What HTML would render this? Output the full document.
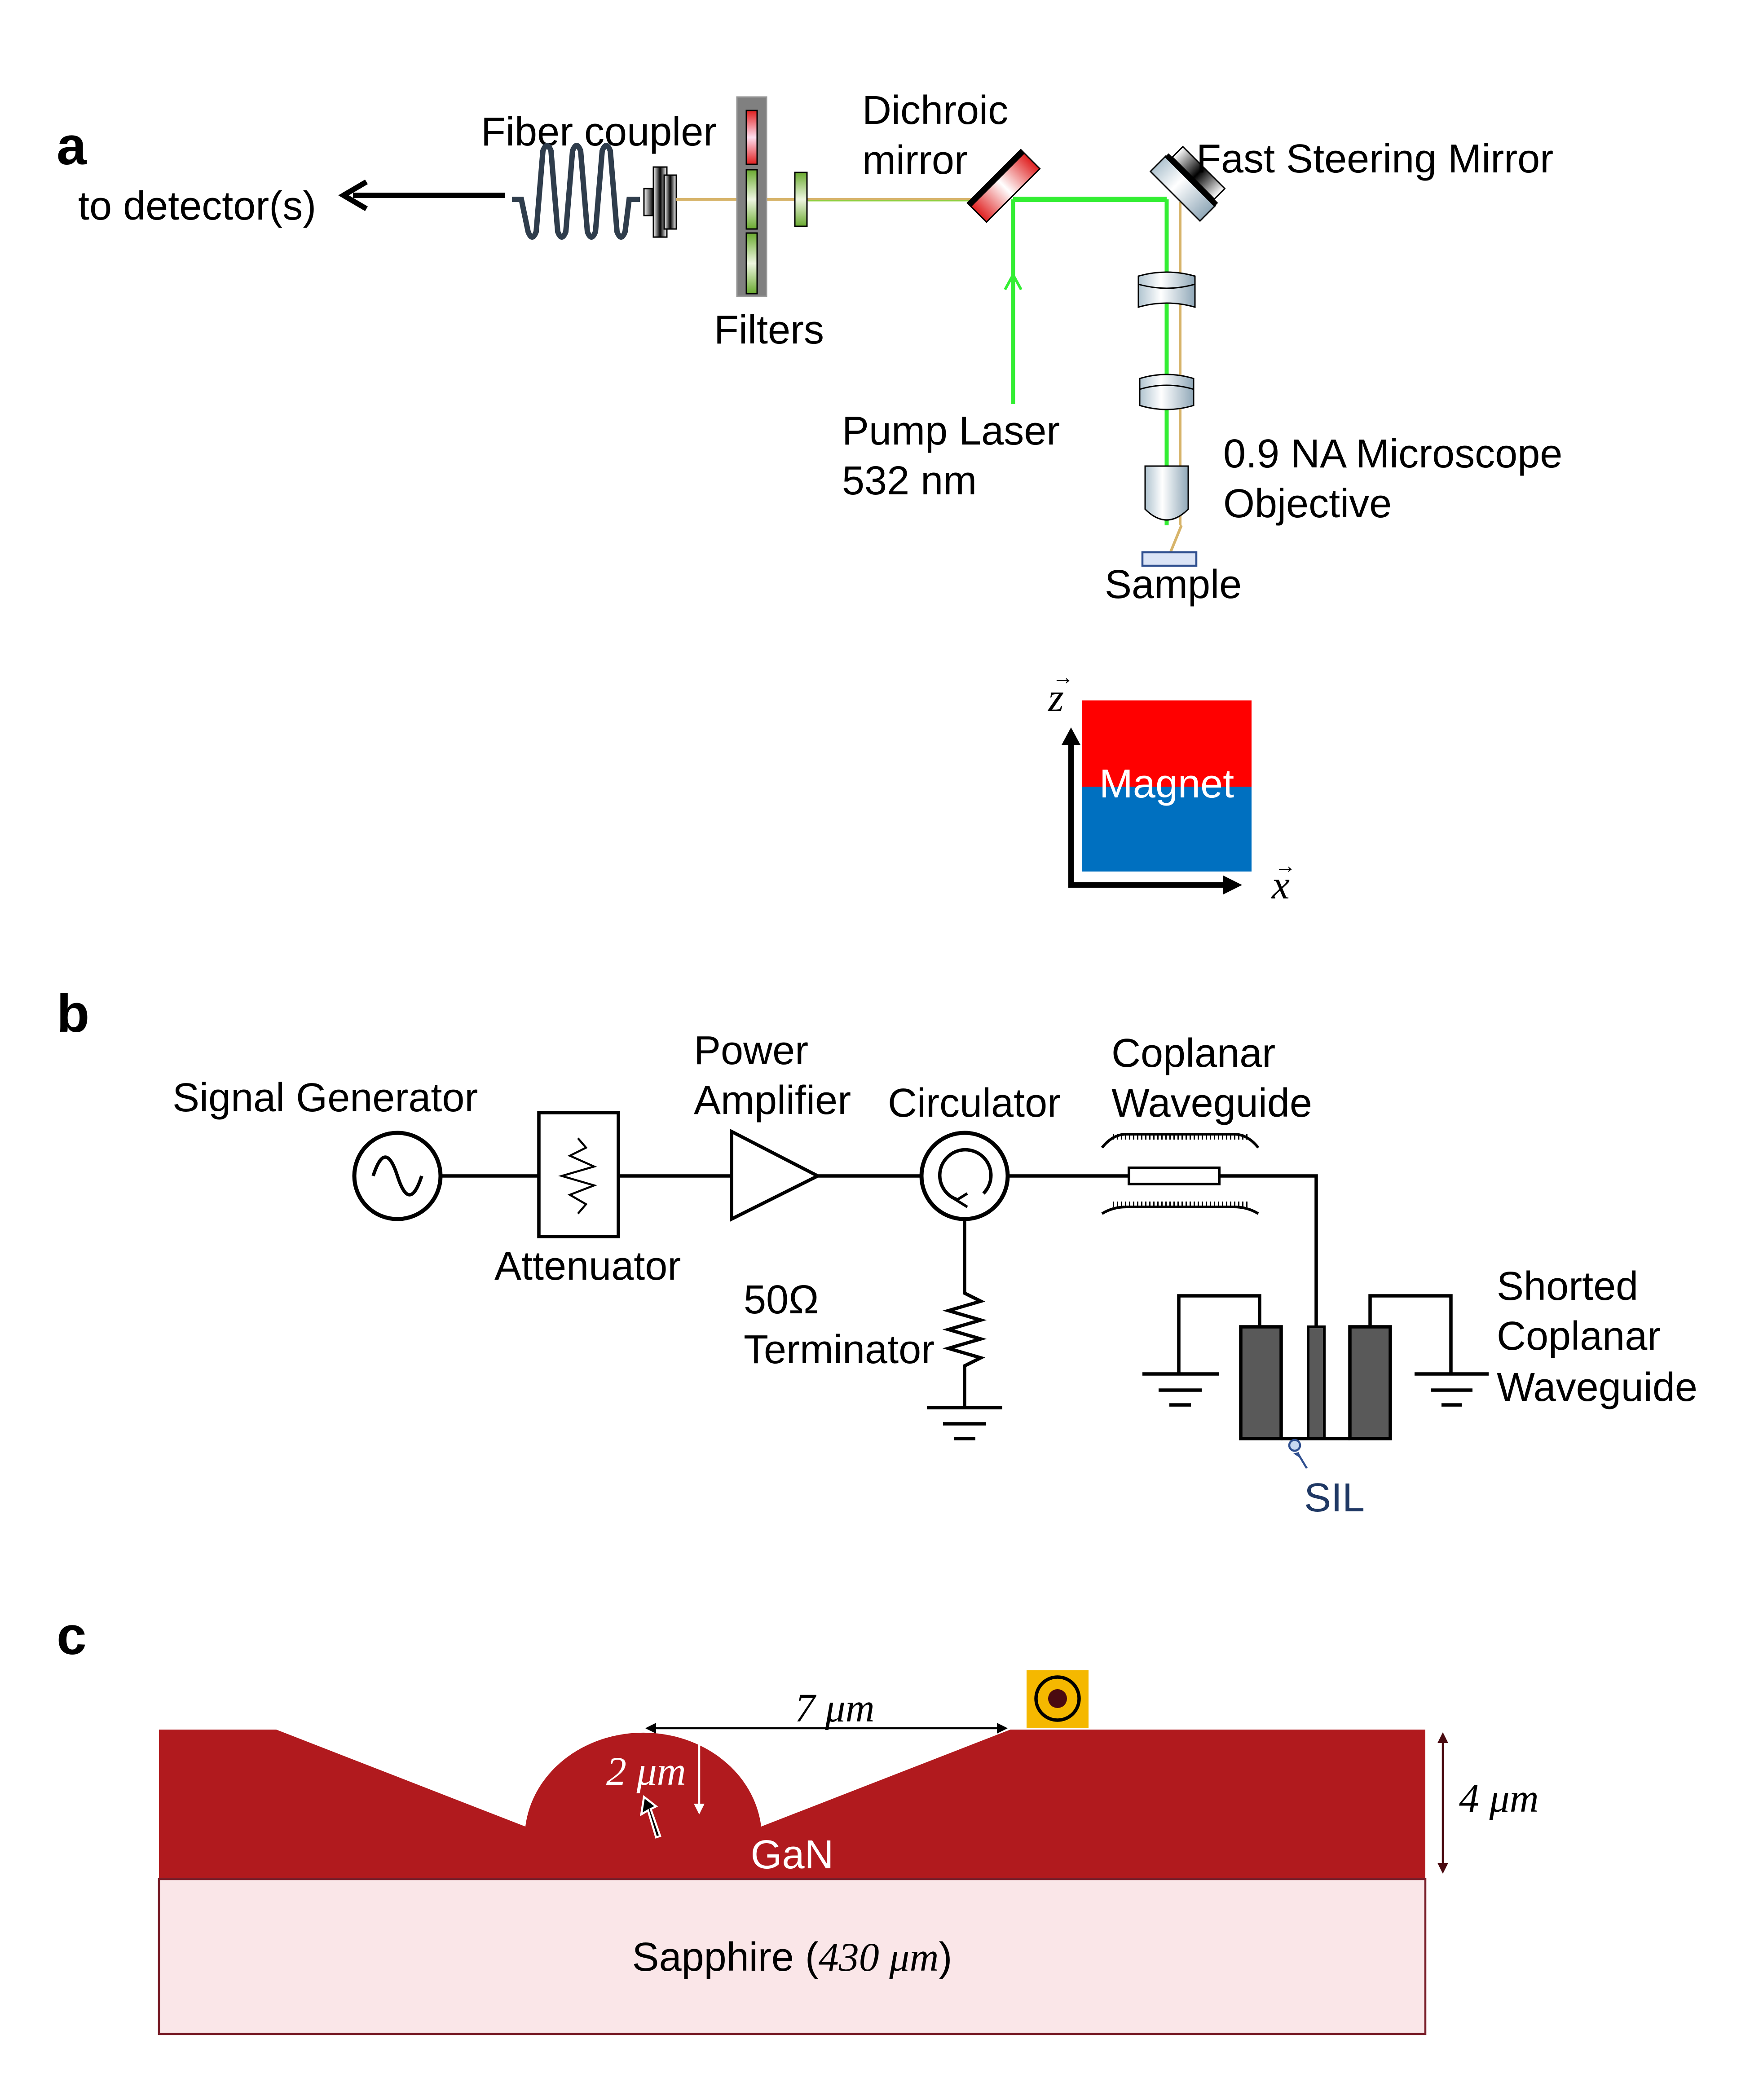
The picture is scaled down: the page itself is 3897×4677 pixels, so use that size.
<!DOCTYPE html>
<html><head><meta charset="utf-8"><style>
html,body{margin:0;padding:0;background:#fff;}
svg{display:block;}
text{font-family:"Liberation Sans",sans-serif;}
.s{font-family:"Liberation Serif",serif;font-style:italic;}
</style></head><body>
<svg width="3897" height="4677" viewBox="0 0 1299 1559" xmlns="http://www.w3.org/2000/svg">
<defs>
<linearGradient id="red" x1="0" x2="1"><stop offset="0" stop-color="#e02020"/><stop offset="0.5" stop-color="#fff"/><stop offset="1" stop-color="#e02020"/></linearGradient>
<linearGradient id="rv" x1="0" y1="0" x2="0" y2="1"><stop offset="0" stop-color="#e02020"/><stop offset="0.5" stop-color="#fde"/><stop offset="1" stop-color="#e02020"/></linearGradient>
<linearGradient id="gv" x1="0" y1="0" x2="0" y2="1"><stop offset="0" stop-color="#6aaa30"/><stop offset="0.5" stop-color="#eef6e0"/><stop offset="1" stop-color="#6aaa30"/></linearGradient>
<linearGradient id="metal" x1="0" x2="1"><stop offset="0" stop-color="#b0c4d0"/><stop offset="0.4" stop-color="#fff"/><stop offset="1" stop-color="#90a8b8"/></linearGradient>
<linearGradient id="blk" x1="0" x2="1"><stop offset="0" stop-color="#fff"/><stop offset="0.5" stop-color="#000"/><stop offset="1" stop-color="#fff"/></linearGradient>
<marker id="ahw" markerWidth="8" markerHeight="8" refX="7" refY="4" orient="auto" markerUnits="userSpaceOnUse"><path d="M0,0 L8,4 L0,8 z" fill="#fff"/></marker>
<marker id="ahd" markerWidth="8" markerHeight="8" refX="7" refY="4" orient="auto-start-reverse" markerUnits="userSpaceOnUse"><path d="M0,0 L8,4 L0,8 z" fill="#4a0a10"/></marker>
<marker id="ahk" markerWidth="8" markerHeight="8" refX="7" refY="4" orient="auto-start-reverse" markerUnits="userSpaceOnUse"><path d="M0,0 L8,4 L0,8 z" fill="#000"/></marker>
</defs>

<g font-size="30">
<!-- Panel a -->
<text x="42" y="122" font-size="40" font-weight="bold">a</text>
<text x="58" y="163">to detector(s)</text>
<line x1="375" y1="145" x2="262" y2="145" stroke="#000" stroke-width="4"/>
<path d="M272,135 L255,145 L272,155" fill="none" stroke="#000" stroke-width="4"/>
<text x="357" y="108">Fiber coupler</text>
<path d="M380,148 L387,148 L392,172 Q395,180 398,172 L403,112 Q406,104 409,112 L414,172 Q417,180 420,172 L425,112 Q428,104 431,112 L436,172 Q439,180 442,172 L447,112 Q450,104 453,112 L458,172 Q461,180 464,172 L467,148 L475,148" fill="none" stroke="#2f3d4c" stroke-width="4"/>
<rect x="478" y="140" width="14" height="20" fill="url(#blk)" stroke="#000" stroke-width="1"/>
<rect x="485" y="124" width="10" height="52" fill="url(#blk)" stroke="#000" stroke-width="1"/>
<rect x="493" y="130" width="9" height="40" fill="url(#blk)" stroke="#000" stroke-width="1"/>
<line x1="502" y1="148" x2="725" y2="148" stroke="#d7b46a" stroke-width="2"/>
<line x1="600" y1="149" x2="725" y2="149" stroke="#8fcf3f" stroke-width="1"/>
<rect x="547" y="72" width="22" height="148" fill="#808080" stroke="#999"/>
<rect x="554" y="82" width="8" height="40" fill="url(#rv)" stroke="#000"/>
<rect x="554" y="126" width="8" height="44" fill="url(#gv)" stroke="#000"/>
<rect x="554" y="173" width="8" height="45" fill="url(#gv)" stroke="#000"/>
<rect x="590" y="128" width="9" height="40" fill="url(#gv)" stroke="#000"/>
<text x="530" y="255">Filters</text>
<text x="640" y="92">Dichroic</text>
<text x="640" y="129">mirror</text>
<line x1="752" y1="148" x2="866" y2="148" stroke="#33ee33" stroke-width="4"/>
<line x1="752" y1="300" x2="752" y2="148" stroke="#33ee33" stroke-width="3"/>
<path d="M746,215 L752,204 L758,215" fill="none" stroke="#33ee33" stroke-width="2"/>
<g transform="translate(745,138) rotate(-45)"><rect x="-28" y="-10" width="56" height="20" fill="url(#red)" stroke="#000"/><rect x="-28" y="-10" width="56" height="4" fill="#000"/></g>
<text x="625" y="330">Pump Laser</text>
<text x="625" y="367">532 nm</text>
<line x1="866" y1="148" x2="866" y2="390" stroke="#33ee33" stroke-width="3"/>
<line x1="876" y1="150" x2="876" y2="390" stroke="#d7b46a" stroke-width="2"/>
<line x1="877" y1="390" x2="868" y2="412" stroke="#d7b46a" stroke-width="2"/>
<g transform="translate(878,140) rotate(45)"><rect x="-26" y="-8" width="52" height="16" fill="url(#metal)" stroke="#000"/><rect x="-26" y="-11" width="52" height="4" fill="#000"/><rect x="-22" y="-22" width="44" height="11" fill="url(#blk)" stroke="#000"/></g>
<text x="888" y="128">Fast Steering Mirror</text>
<path d="M845,205 Q866,199 887,205 L887,228 Q866,222 845,228 Z" fill="url(#metal)" stroke="#000"/>
<path d="M845,211 Q866,217 887,211" fill="none" stroke="#000"/>
<path d="M846,281 Q866,275 886,281 L886,301 Q866,307 846,301 Z" fill="url(#metal)" stroke="#000"/>
<path d="M846,289 Q866,283 886,289" fill="none" stroke="#000"/>
<path d="M850,346 L882,346 L882,378 Q866,394 850,378 Z" fill="url(#metal)" stroke="#000"/>
<rect x="848" y="410" width="40" height="10" fill="#dbe4f6" stroke="#2f4f8f" stroke-width="1.5"/>
<text x="820" y="444">Sample</text>
<text x="908" y="347">0.9 NA Microscope</text>
<text x="908" y="384">Objective</text>
<rect x="803" y="520" width="126" height="64" fill="#ff0000"/>
<rect x="803" y="584" width="126" height="63" fill="#0070c0"/>
<text x="866" y="592" fill="#fff" text-anchor="middle">Magnet</text>
<polyline points="795,550 795,657 912,657" fill="none" stroke="#000" stroke-width="4"/>
<path d="M788,553 L795,540 L802,553 Z" fill="#000"/>
<path d="M908,650 L922,657 L908,664 Z" fill="#000"/>
<text x="778" y="528" class="s">z</text><text x="781" y="508" font-size="16">→</text>
<text x="944" y="667" class="s">x</text><text x="946" y="648" font-size="16">→</text>

<!-- Panel b -->
<text x="42" y="766" font-size="40" font-weight="bold">b</text>
<text x="128" y="825">Signal Generator</text>
<circle cx="295" cy="873" r="32" fill="none" stroke="#000" stroke-width="3"/>
<path d="M277,873 Q286,845 295,873 T313,873" fill="none" stroke="#000" stroke-width="2.5"/>
<line x1="327" y1="873" x2="400" y2="873" stroke="#000" stroke-width="2.5"/>
<rect x="400" y="826" width="59" height="92" fill="#fff" stroke="#000" stroke-width="2.5"/>
<polyline points="429,845 435,852 423,858 441,866 417,873 441,880 423,887 435,894 429,901" fill="none" stroke="#000" stroke-width="1.5"/>
<text x="367" y="950">Attenuator</text>
<line x1="459" y1="873" x2="543" y2="873" stroke="#000" stroke-width="2.5"/>
<polygon points="543,840 543,905 607,873" fill="#fff" stroke="#000" stroke-width="2.5"/>
<text x="515" y="790">Power</text>
<text x="515" y="827">Amplifier</text>
<line x1="607" y1="873" x2="684" y2="873" stroke="#000" stroke-width="2.5"/>
<circle cx="716" cy="873" r="32" fill="none" stroke="#000" stroke-width="3"/>
<path d="M730,886 A19,19 0 1 0 712,891" fill="none" stroke="#000" stroke-width="2.5"/>
<path d="M718,886 L710,891 L718,896" fill="none" stroke="#000" stroke-width="2"/>
<text x="659" y="829">Circulator</text>
<polyline points="716,905 716,960 728,966 704,973 728,980 704,987 728,994 704,1001 728,1008 716,1014 716,1045" fill="none" stroke="#000" stroke-width="2.5"/>
<line x1="688" y1="1045" x2="744" y2="1045" stroke="#000" stroke-width="2.5"/>
<line x1="700" y1="1057" x2="732" y2="1057" stroke="#000" stroke-width="2.5"/>
<line x1="708" y1="1068" x2="724" y2="1068" stroke="#000" stroke-width="2.5"/>
<text x="552" y="975">50Ω</text>
<text x="552" y="1012">Terminator</text>
<line x1="748" y1="873" x2="838" y2="873" stroke="#000" stroke-width="2.5"/>
<rect x="838" y="867" width="67" height="12" fill="#fff" stroke="#000" stroke-width="2"/>
<polyline points="905,873 977,873 977,1068" fill="none" stroke="#000" stroke-width="2.5"/>
<path d="M818,852 Q826,842 836,842 L916,842 Q926,842 934,852" fill="none" stroke="#000" stroke-width="2"/>
<path d="M818,901 Q826,896 836,896 L916,896 Q926,896 934,901" fill="none" stroke="#000" stroke-width="2"/>
<line x1="826" y1="844" x2="928" y2="844" stroke="#000" stroke-width="4" stroke-dasharray="1,2"/>
<line x1="826" y1="894" x2="928" y2="894" stroke="#000" stroke-width="4" stroke-dasharray="1,2"/>
<text x="825" y="792">Coplanar</text>
<text x="825" y="829">Waveguide</text>
<polyline points="935,985 935,962 875,962 875,1020" fill="none" stroke="#000" stroke-width="2.5"/>
<line x1="848" y1="1020" x2="905" y2="1020" stroke="#000" stroke-width="2.5"/>
<line x1="860" y1="1032" x2="892" y2="1032" stroke="#000" stroke-width="2.5"/>
<line x1="868" y1="1043" x2="884" y2="1043" stroke="#000" stroke-width="2.5"/>
<polyline points="1017,985 1017,962 1077,962 1077,1020" fill="none" stroke="#000" stroke-width="2.5"/>
<line x1="1050" y1="1020" x2="1105" y2="1020" stroke="#000" stroke-width="2.5"/>
<line x1="1062" y1="1032" x2="1093" y2="1032" stroke="#000" stroke-width="2.5"/>
<line x1="1070" y1="1043" x2="1085" y2="1043" stroke="#000" stroke-width="2.5"/>
<line x1="951" y1="1068" x2="1002" y2="1068" stroke="#000" stroke-width="2.5"/>
<rect x="921" y="985" width="30" height="83" fill="#595959" stroke="#000" stroke-width="2.5"/>
<rect x="971" y="985" width="12" height="83" fill="#595959" stroke="#000" stroke-width="2"/>
<rect x="1002" y="985" width="30" height="83" fill="#595959" stroke="#000" stroke-width="2.5"/>
<text x="1111" y="965">Shorted</text>
<text x="1111" y="1002">Coplanar</text>
<text x="1111" y="1040">Waveguide</text>
<circle cx="961" cy="1073" r="4" fill="#c8d8f0" stroke="#2f4f8f" stroke-width="1.5"/>
<line x1="970" y1="1090" x2="964" y2="1080" stroke="#2f4f8f" stroke-width="1.5"/>
<path d="M960,1079 L964,1078 L966,1083" fill="#2f4f8f"/>
<text x="968" y="1122" fill="#1f3864">SIL</text>

<!-- Panel c -->
<text x="42" y="1228" font-size="40" font-weight="bold">c</text>
<path d="M118,1284 L205,1284 L390,1356 A88,78 0 0 1 565,1356 L750,1284 L1058,1284 L1058,1395 L118,1395 Z" fill="#b11a1e"/>
<rect x="118" y="1395" width="940" height="115" fill="#fae6e8" stroke="#7a1f2a" stroke-width="1.5"/>
<text x="588" y="1463" text-anchor="middle">Sapphire (<tspan class="s" font-style="normal">430 </tspan><tspan class="s">μm</tspan>)</text>
<text x="588" y="1387" fill="#fff" text-anchor="middle">GaN</text>
<line x1="480" y1="1283" x2="747" y2="1283" stroke="#000" stroke-width="1.5" marker-start="url(#ahk)" marker-end="url(#ahk)"/>
<text x="590" y="1278" class="s" font-style="normal">7 <tspan font-style="italic">μm</tspan></text>
<line x1="519" y1="1286" x2="519" y2="1346" stroke="#fff" stroke-width="1.5" marker-end="url(#ahw)"/>
<text x="450" y="1325" fill="#fff" class="s" font-style="normal">2 <tspan font-style="italic">μm</tspan></text>
<path d="M487,1364 L481,1344 L476,1347 L478,1334 L487,1341 L483,1343 L490,1363 Z" fill="#000" stroke="#fff" stroke-width="1.5"/>
<rect x="762" y="1240" width="46" height="43" fill="#f5b800"/>
<circle cx="785" cy="1261" r="16" fill="none" stroke="#000" stroke-width="2.5"/>
<circle cx="785" cy="1261" r="7" fill="#4a0a10"/>
<line x1="1071" y1="1287" x2="1071" y2="1390" stroke="#4a0a10" stroke-width="1.5" marker-start="url(#ahd)" marker-end="url(#ahd)"/>
<text x="1083" y="1345" class="s" font-style="normal">4 <tspan font-style="italic">μm</tspan></text>
</g>
</svg>
</body></html>
